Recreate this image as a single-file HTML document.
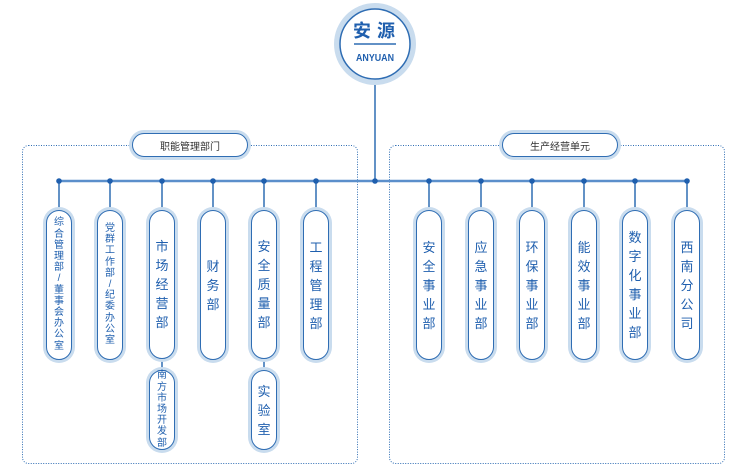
<!DOCTYPE html>
<html><head><meta charset="utf-8"><style>
body{margin:0;width:745px;height:472px;background:#fff;position:relative;overflow:hidden;font-family:"Liberation Sans","Noto Sans CJK SC",sans-serif;color:#1f5fae}
.p{position:absolute;box-sizing:border-box;width:26px;border:1.5px solid #2f6db3;border-radius:13px;background:#fff;box-shadow:0 0 0 3px #c9dcee;display:flex;flex-direction:column;align-items:center;justify-content:center;line-height:1}
.p span{display:block;line-height:1}
.s span{font-size:10px;margin:0.6px 0}
.b span{font-size:13px;margin:3px 0}
.lab{position:absolute;box-sizing:border-box;height:24px;border:1.5px solid #2f6db3;border-radius:12px;background:#fff;box-shadow:0 0 0 3px #c9dcee;font-size:10px;display:flex;align-items:center;justify-content:center;color:#333}
</style></head><body>
<svg width="745" height="472" style="position:absolute;left:0;top:0">
<rect x="22.5" y="145.5" width="335" height="318" rx="6" fill="none" stroke="#2f6db3" stroke-dasharray="1 1.5"/>
<rect x="389.5" y="145.5" width="335" height="318" rx="6" fill="none" stroke="#2f6db3" stroke-dasharray="1 1.5"/>
<line x1="375" y1="80" x2="375" y2="181" stroke="#2f6db3" stroke-width="1.5"/>
<line x1="59" y1="181" x2="687" y2="181" stroke="#5b8fcb" stroke-width="2.5"/>
<g stroke="#2f6db3" stroke-width="1.5">
<line x1="59" y1="181" x2="59" y2="212"/><line x1="110" y1="181" x2="110" y2="212"/><line x1="162" y1="181" x2="162" y2="212"/><line x1="213" y1="181" x2="213" y2="212"/><line x1="264" y1="181" x2="264" y2="212"/><line x1="316" y1="181" x2="316" y2="212"/>
<line x1="429" y1="181" x2="429" y2="212"/><line x1="481" y1="181" x2="481" y2="212"/><line x1="532" y1="181" x2="532" y2="212"/><line x1="584" y1="181" x2="584" y2="212"/><line x1="635" y1="181" x2="635" y2="212"/><line x1="687" y1="181" x2="687" y2="212"/>
<line x1="162" y1="358" x2="162" y2="372"/><line x1="264" y1="358" x2="264" y2="372"/>
</g>
<g fill="#1f5fae">
<circle cx="59" cy="181" r="2.8"/><circle cx="110" cy="181" r="2.8"/><circle cx="162" cy="181" r="2.8"/><circle cx="213" cy="181" r="2.8"/><circle cx="264" cy="181" r="2.8"/><circle cx="316" cy="181" r="2.8"/><circle cx="375" cy="181" r="2.8"/>
<circle cx="429" cy="181" r="2.8"/><circle cx="481" cy="181" r="2.8"/><circle cx="532" cy="181" r="2.8"/><circle cx="584" cy="181" r="2.8"/><circle cx="635" cy="181" r="2.8"/><circle cx="687" cy="181" r="2.8"/>
</g>
<circle cx="375" cy="44" r="41" fill="#c9dcee"/>
<circle cx="375" cy="44" r="35" fill="#fff" stroke="#2f6db3" stroke-width="1.5"/>
<line x1="354" y1="44" x2="396" y2="44" stroke="#2f6db3" stroke-width="1.5"/>
<text x="377" y="37" text-anchor="middle" font-size="18" font-weight="bold" fill="#1f5fae" letter-spacing="6" font-family="Liberation Sans,Noto Sans CJK SC,sans-serif">安源</text>
<text x="375" y="61" text-anchor="middle" font-size="10.5" font-weight="bold" fill="#1f5fae" textLength="38" lengthAdjust="spacingAndGlyphs" font-family="Liberation Sans,sans-serif">ANYUAN</text>
</svg>
<div class="lab" style="left:132px;top:133px;width:116px">职能管理部门</div>
<div class="lab" style="left:502px;top:133px;width:116px">生产经营单元</div>

<div class="p s" style="left:46px;top:210px;height:150px"><span>综</span><span>合</span><span>管</span><span>理</span><span>部</span><span>/</span><span>董</span><span>事</span><span>会</span><span>办</span><span>公</span><span>室</span></div>
<div class="p s" style="left:97px;top:210px;height:150px"><span>党</span><span>群</span><span>工</span><span>作</span><span>部</span><span>/</span><span>纪</span><span>委</span><span>办</span><span>公</span><span>室</span></div>
<div class="p b" style="left:149px;top:210px;height:149px"><span>市</span><span>场</span><span>经</span><span>营</span><span>部</span></div>
<div class="p b" style="left:200px;top:210px;height:150px"><span>财</span><span>务</span><span>部</span></div>
<div class="p b" style="left:251px;top:210px;height:149px"><span>安</span><span>全</span><span>质</span><span>量</span><span>部</span></div>
<div class="p b" style="left:303px;top:210px;height:150px"><span>工</span><span>程</span><span>管</span><span>理</span><span>部</span></div>
<div class="p s" style="left:149px;top:370px;height:80px"><span>南</span><span>方</span><span>市</span><span>场</span><span>开</span><span>发</span><span>部</span></div>
<div class="p b" style="left:251px;top:370px;height:80px"><span>实</span><span>验</span><span>室</span></div>

<div class="p b" style="left:416px;top:210px;height:150px"><span>安</span><span>全</span><span>事</span><span>业</span><span>部</span></div>
<div class="p b" style="left:468px;top:210px;height:150px"><span>应</span><span>急</span><span>事</span><span>业</span><span>部</span></div>
<div class="p b" style="left:519px;top:210px;height:150px"><span>环</span><span>保</span><span>事</span><span>业</span><span>部</span></div>
<div class="p b" style="left:571px;top:210px;height:150px"><span>能</span><span>效</span><span>事</span><span>业</span><span>部</span></div>
<div class="p b" style="left:622px;top:210px;height:150px"><span>数</span><span>字</span><span>化</span><span>事</span><span>业</span><span>部</span></div>
<div class="p b" style="left:674px;top:210px;height:150px"><span>西</span><span>南</span><span>分</span><span>公</span><span>司</span></div>
</body></html>
